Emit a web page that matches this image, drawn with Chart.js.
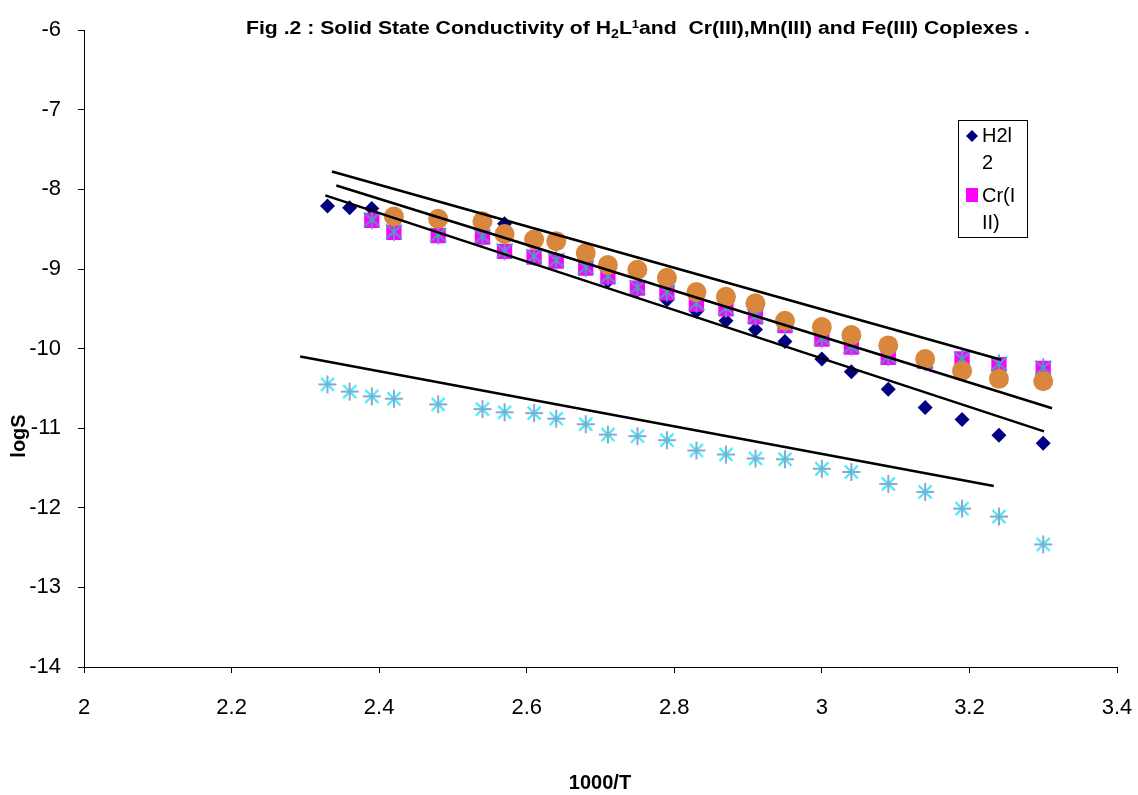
<!DOCTYPE html>
<html>
<head>
<meta charset="utf-8">
<script src="https://cdn.jsdelivr.net/npm/chart.js@4.4.1/dist/chart.umd.min.js"></script>
<style>
    html, body { margin: 0; padding: 0; background: #fff; }
    #wrap { width: 1138px; height: 795px; }
</style>
</head>
<body>
<div id="wrap"><canvas id="myChart" width="1138" height="795"></canvas></div>
<script>
// 1000/T values shared by every series
var temps = [2.33, 2.36, 2.39, 2.42, 2.48, 2.54, 2.57, 2.61, 2.64, 2.68, 2.71, 2.75,
             2.79, 2.83, 2.87, 2.91, 2.95, 3.00, 3.04, 3.09, 3.14, 3.19, 3.24, 3.30];

// logS (null = no point)
var h2l2 = [-8.21, -8.23, -8.24, -8.52, -8.57, -8.60, -8.43, -8.86, -8.91, -9.00, -9.15, -9.27,
            -9.39, -9.53, -9.65, -9.76, -9.91, -10.13, -10.29, -10.51, -10.74, -10.89, -11.09, -11.19];
var crIII = [null, null, -8.39, -8.54, -8.58, -8.60, -8.78, -8.85, -8.90, -8.99, -9.10, -9.24,
             -9.30, -9.44, -9.50, -9.60, -9.71, -9.88, -9.98, -10.11, -10.16, -10.13, -10.20, -10.25];
var mnIII = [null, null, -8.38, -8.53, -8.57, -8.59, -8.77, -8.84, -8.89, -8.98, -9.09, -9.23,
             -9.29, -9.43, -9.49, -9.59, -9.70, -9.87, -9.97, -10.10, -10.16, -10.13, -10.19, -10.24];
var feIII = [null, null, null, -8.34, -8.37, -8.40, -8.56, -8.63, -8.65, -8.80, -8.95, -9.01,
             -9.11, -9.29, -9.35, -9.43, -9.65, -9.73, -9.83, -9.96, -10.13, -10.28, -10.38, -10.41];
var h2l1 = [-10.45, -10.54, -10.60, -10.63, -10.70, -10.76, -10.80, -10.81, -10.88, -10.95, -11.08, -11.10,
            -11.15, -11.28, -11.33, -11.38, -11.39, -11.51, -11.55, -11.70, -11.80, -12.01, -12.11, -12.46];

// linear trend lines, [start, end] in data units
var trendTopX = [2.336, 3.243],  trendTopY = [-7.775, -10.14];
var trendMidX = [2.342, 3.312],  trendMidY = [-7.95, -10.75];
var trendLowX = [2.327, 3.301],  trendLowY = [-8.075, -11.04];
var trendStarX = [2.293, 3.233], trendStarY = [-10.10, -11.725];

var seriesNames = ['H2l2', 'Cr(III)', 'Mn(III)', 'Fe(III)', 'H2L1'];
var xTicks = [2, 2.2, 2.4, 2.6, 2.8, 3, 3.2, 3.4];
var yTicks = [-6, -7, -8, -9, -10, -11, -12, -13, -14];

var FONT = "'Liberation Sans', Arial, sans-serif";

function pts(xs, ys) {
    var out = [];
    for (var i = 0; i < xs.length; i++) {
        if (ys[i] !== null) out.push({ x: xs[i], y: ys[i] });
    }
    return out;
}

// excel style "star": X plus a vertical bar
function excelStar() {
    var c = document.createElement('canvas');
    c.width = 22; c.height = 22;
    var g = c.getContext('2d');
    g.strokeStyle = '#4A9FC0';
    g.lineWidth = 1.8;
    g.beginPath();
    g.moveTo(3, 4); g.lineTo(19, 18);
    g.moveTo(19, 4); g.lineTo(3, 18);
    g.moveTo(11, 1.5); g.lineTo(11, 20.5);
    g.stroke();
    return c;
}

// asterisk: cyan diagonals, grey-blue cross
function asterisk() {
    var c = document.createElement('canvas');
    c.width = 22; c.height = 22;
    var g = c.getContext('2d');
    g.lineWidth = 2;
    g.strokeStyle = '#2FEAF8';
    g.beginPath();
    g.moveTo(4.5, 4.5); g.lineTo(17.5, 17.5);
    g.moveTo(17.5, 4.5); g.lineTo(4.5, 17.5);
    g.stroke();
    g.strokeStyle = '#8EA6CC';
    g.beginPath();
    g.moveTo(11, 2); g.lineTo(11, 20);
    g.moveTo(2, 11); g.lineTo(20, 11);
    g.stroke();
    return c;
}

function trend(xs, ys) {
    return {
        data: pts(xs, ys),
        showLine: true,
        borderColor: '#000',
        borderWidth: 2.6,
        pointRadius: 0,
        order: 0
    };
}

// title, axis titles and the little legend box
var decorations = {
    id: 'decorations',
    afterDraw: function (chart) {
        var ctx = chart.ctx;
        ctx.save();
        ctx.fillStyle = '#000';

        // title with H2L1 sub/superscript, squeezed like the original
        var parts = [
            { t: 'Fig .2 : Solid State Conductivity of H', s: 18, dy: 0 },
            { t: '2', s: 12, dy: 4 },
            { t: 'L', s: 18, dy: 0 },
            { t: '1', s: 11, dy: -6 },
            { t: 'and  Cr(III),Mn(III) and Fe(III) Coplexes .', s: 18, dy: 0 }
        ];
        var total = 0;
        parts.forEach(function (p) {
            ctx.font = 'bold ' + p.s + 'px ' + FONT;
            p.w = ctx.measureText(p.t).width;
            total += p.w;
        });
        var left = 246, span = 784;
        ctx.translate(left, 34);
        ctx.scale(span / total, 1);
        ctx.textBaseline = 'alphabetic';
        ctx.textAlign = 'left';
        var cx = 0;
        parts.forEach(function (p) {
            ctx.font = 'bold ' + p.s + 'px ' + FONT;
            ctx.fillText(p.t, cx, p.dy);
            cx += p.w;
        });
        ctx.setTransform(1, 0, 0, 1, 0, 0);

        // axis titles
        ctx.font = 'bold 20px ' + FONT;
        ctx.textAlign = 'center';
        ctx.textBaseline = 'middle';
        ctx.fillText('1000/T', 600, 783);
        ctx.translate(19, 436);
        ctx.rotate(-Math.PI / 2);
        ctx.fillText('logS', 0, 0);
        ctx.setTransform(1, 0, 0, 1, 0, 0);

        // legend (only the first two series fit in the box)
        ctx.fillStyle = '#fff';
        ctx.fillRect(958, 120, 69, 117);
        ctx.strokeStyle = '#000';
        ctx.lineWidth = 1;
        ctx.strokeRect(958.5, 120.5, 69, 117);

        ctx.font = '20px ' + FONT;
        ctx.textAlign = 'left';
        ctx.textBaseline = 'middle';
        var rowY = 136;
        [0, 1].forEach(function (k) {
            var name = seriesNames[k];
            var lines = [], cur = '';
            for (var i = 0; i < name.length; i++) {
                if (cur && ctx.measureText(cur + name[i]).width > 36) {
                    lines.push(cur);
                    cur = '';
                }
                cur += name[i];
            }
            lines.push(cur);

            if (k === 0) {
                ctx.fillStyle = '#000080';
                ctx.beginPath();
                ctx.moveTo(972, rowY - 6);
                ctx.lineTo(978, rowY);
                ctx.lineTo(972, rowY + 6);
                ctx.lineTo(966, rowY);
                ctx.closePath();
                ctx.fill();
            } else {
                ctx.fillStyle = '#FF00FF';
                ctx.fillRect(966, rowY - 8, 12, 14);
            }
            ctx.fillStyle = '#000';
            lines.forEach(function (ln, j) {
                ctx.fillText(ln, 982, rowY + j * 27);
            });
            rowY += lines.length * 27 + 6;
        });
        ctx.restore();
    }
};

var ctx = document.getElementById('myChart');
var myChart = new Chart(ctx, {
    type: 'scatter',
    data: {
        datasets: [
            trend(trendTopX, trendTopY),
            trend(trendMidX, trendMidY),
            trend(trendLowX, trendLowY),
            trend(trendStarX, trendStarY),
            {
                label: seriesNames[3],
                data: pts(temps, feIII),
                pointStyle: 'circle',
                pointRadius: 10,
                backgroundColor: '#D9873D',
                borderColor: '#D9873D',
                borderWidth: 0,
                order: 1
            },
            {
                label: seriesNames[2],
                data: pts(temps, mnIII),
                pointStyle: excelStar(),
                order: 2
            },
            {
                label: seriesNames[4],
                data: pts(temps, h2l1),
                pointStyle: asterisk(),
                order: 3
            },
            {
                label: seriesNames[1],
                data: pts(temps, crIII),
                pointStyle: 'rect',
                pointRadius: 10.8,
                backgroundColor: '#FF00FF',
                borderColor: '#FF00FF',
                borderWidth: 0,
                order: 4
            },
            {
                label: seriesNames[0],
                data: pts(temps, h2l2),
                pointStyle: 'rectRot',
                pointRadius: 7.5,
                backgroundColor: '#000080',
                borderColor: '#000080',
                borderWidth: 0,
                order: 5
            }
        ]
    },
    options: {
        responsive: false,
        animation: false,
        devicePixelRatio: 1,
        events: [],
        layout: { padding: { top: 27, right: 21, left: 0, bottom: 0 } },
        plugins: {
            legend: { display: false },
            title: { display: false },
            tooltip: { enabled: false }
        },
        scales: {
            x: {
                type: 'linear',
                min: 2,
                max: 3.4,
                afterBuildTicks: function (scale) {
                    scale.ticks = xTicks.map(function (v) { return { value: v }; });
                },
                afterFit: function (scale) {
                    scale.height = 128;
                    scale.paddingLeft = 0;
                    scale.paddingRight = 0;
                },
                ticks: {
                    color: '#000',
                    font: { family: FONT, size: 22 },
                    padding: 22,
                    maxRotation: 0,
                    callback: function (v) { return String(v); }
                },
                grid: { drawOnChartArea: false, color: '#000', tickLength: 6 },
                border: { color: '#000', width: 1 }
            },
            y: {
                type: 'linear',
                min: -14,
                max: -6,
                afterBuildTicks: function (scale) {
                    scale.ticks = yTicks.map(function (v) { return { value: v }; });
                },
                afterFit: function (scale) { scale.width = 84; },
                ticks: {
                    color: '#000',
                    font: { family: FONT, size: 22 },
                    padding: 17,
                    callback: function (v) { return String(v); }
                },
                grid: { drawOnChartArea: false, color: '#000', tickLength: 6 },
                border: { color: '#000', width: 1 }
            }
        }
    },
    plugins: [decorations]
});
</script>
</body>
</html>
